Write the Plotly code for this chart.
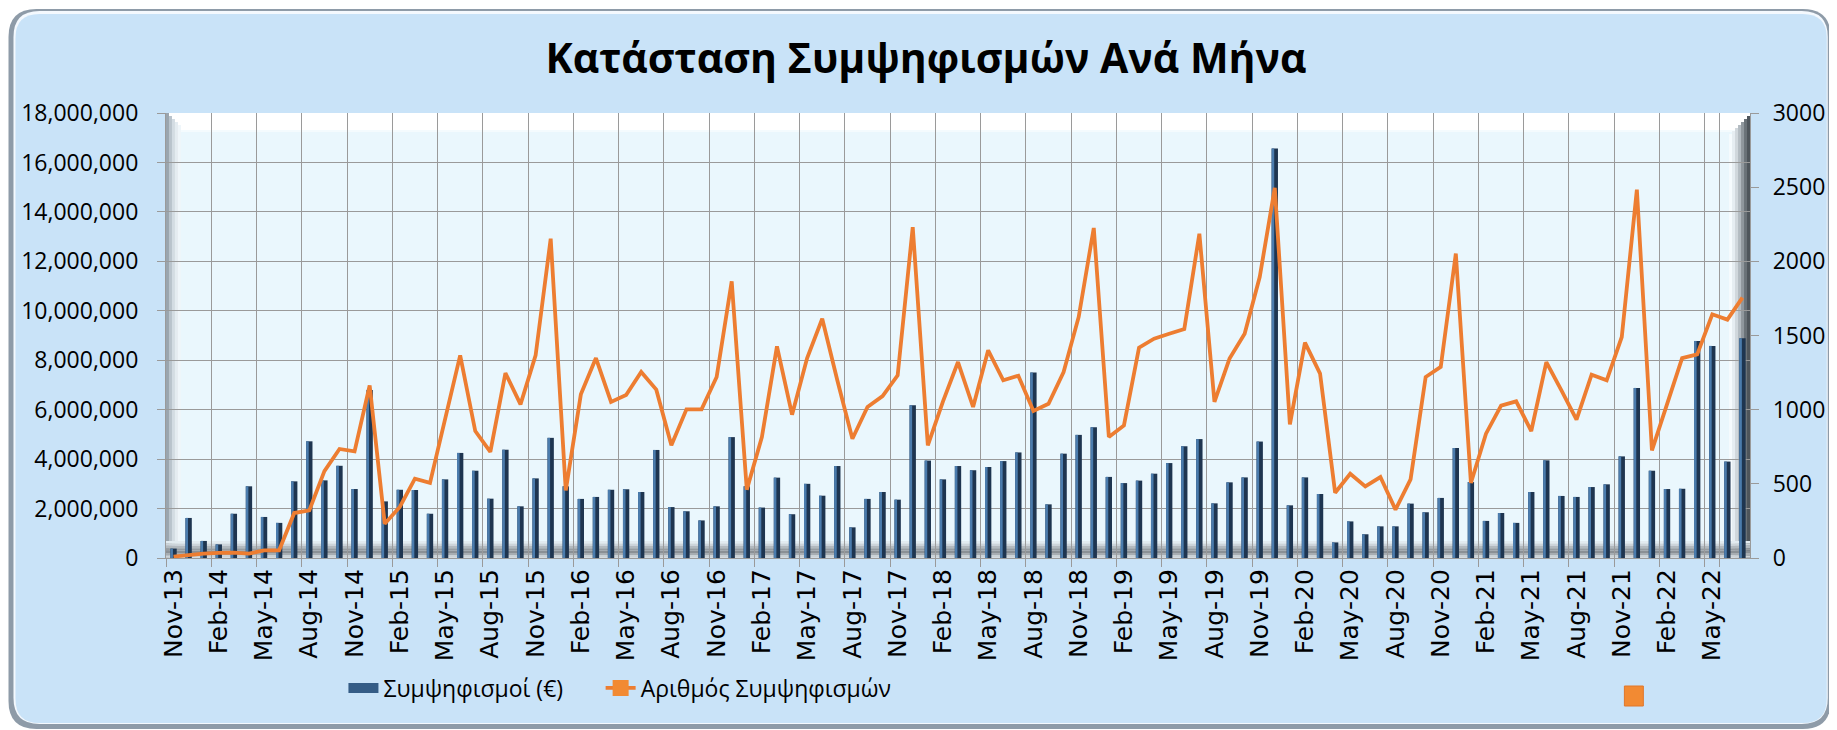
import pandas as pd
import plotly.graph_objects as go

# ---------------- data ----------------
months = list(pd.date_range("2013-11-01", periods=105, freq="MS").strftime("%b-%y"))

amount_eur = [
    0.38e6, 1.62e6, 0.69e6, 0.55e6, 1.79e6, 2.90e6, 1.66e6, 1.42e6, 3.10e6, 4.72e6,
    3.14e6, 3.73e6, 2.79e6, 6.80e6, 2.29e6, 2.76e6, 2.75e6, 1.79e6, 3.18e6, 4.25e6,
    3.53e6, 2.40e6, 4.38e6, 2.09e6, 3.22e6, 4.86e6, 2.90e6, 2.39e6, 2.47e6, 2.76e6,
    2.78e6, 2.67e6, 4.37e6, 2.06e6, 1.89e6, 1.52e6, 2.09e6, 4.89e6, 2.90e6, 2.04e6,
    3.25e6, 1.77e6, 3.00e6, 2.52e6, 3.72e6, 1.24e6, 2.39e6, 2.67e6, 2.36e6, 6.18e6,
    3.94e6, 3.18e6, 3.72e6, 3.55e6, 3.68e6, 3.92e6, 4.27e6, 7.50e6, 2.17e6, 4.22e6,
    4.98e6, 5.29e6, 3.28e6, 3.03e6, 3.13e6, 3.41e6, 3.84e6, 4.52e6, 4.81e6, 2.21e6,
    3.06e6, 3.26e6, 4.71e6, 16.56e6, 2.13e6, 3.26e6, 2.59e6, 0.63e6, 1.48e6, 0.96e6,
    1.28e6, 1.28e6, 2.20e6, 1.85e6, 2.43e6, 4.45e6, 3.07e6, 1.50e6, 1.82e6, 1.42e6,
    2.67e6, 3.95e6, 2.51e6, 2.47e6, 2.87e6, 2.98e6, 4.11e6, 6.88e6, 3.53e6, 2.79e6,
    2.80e6, 8.78e6, 8.58e6, 3.90e6, 8.89e6,
]

count = [
    10, 22, 29, 34, 36, 29, 52, 52, 303, 321,
    586, 735, 719, 1164, 231, 344, 535, 506, 932, 1366,
    856, 715, 1247, 1036, 1366, 2153, 456, 1103, 1348, 1052,
    1099, 1254, 1135, 760, 1002, 1002, 1220, 1865, 461, 816,
    1427, 966, 1348, 1613, 1198, 804, 1018, 1092, 1231, 2231,
    760, 1054, 1321, 1018, 1400, 1198, 1229, 991, 1040, 1254,
    1625, 2225, 816, 894, 1418, 1479, 1512, 1544, 2186, 1052,
    1344, 1512, 1894, 2496, 901, 1452, 1243, 440, 568, 483,
    546, 326, 530, 1220, 1288, 2052, 506, 838, 1027, 1056,
    856, 1321, 1130, 933, 1236, 1198, 1490, 2483, 726, 1040,
    1348, 1373, 1643, 1607, 1755,
]

left_ticks = list(range(0, 18_000_001, 2_000_000))
right_ticks = list(range(0, 3001, 500))
x_ticks = months[::3]

title_text = "Κατάσταση Συμψηφισμών Ανά Μήνα"
bar_name = "Συμψηφισμοί (€)"
line_name = "Αριθμός Συμψηφισμών"

# ---------------- layout geometry (reference pixel coords) ----------------
PAGE_W, PAGE_H = 1837, 730
OFF = 8                      # browser body margin
W, H = PAGE_W - OFF, PAGE_H - OFF
L, R, T, B = 166, 1755, 113, 558   # plot area in page pixels


def px(x):
    return (x - L) / (R - L)


def py(y):
    return (B - y) / (B - T)


def rrect(x0, y0, x1, y1, r):
    pts = [
        f"M {px(x0 + r)},{py(y0)}",
        f"L {px(x1 - r)},{py(y0)}",
        f"Q {px(x1)},{py(y0)} {px(x1)},{py(y0 + r)}",
        f"L {px(x1)},{py(y1 - r)}",
        f"Q {px(x1)},{py(y1)} {px(x1 - r)},{py(y1)}",
        f"L {px(x0 + r)},{py(y1)}",
        f"Q {px(x0)},{py(y1)} {px(x0)},{py(y1 - r)}",
        f"L {px(x0)},{py(y0 + r)}",
        f"Q {px(x0)},{py(y0)} {px(x0 + r)},{py(y0)}",
        "Z",
    ]
    return " ".join(pts)


def rect(x0, y0, x1, y1, color, layer="below"):
    return dict(type="rect", xref="paper", yref="paper", layer=layer,
                x0=px(x0), x1=px(x1), y0=py(y1), y1=py(y0),
                fillcolor=color, line=dict(width=0))


shapes = []
# chart frame (shadow + highlight + fill)
shapes.append(dict(type="path", xref="paper", yref="paper", layer="below",
                   path=rrect(8, 9, 1836, 729, 28), fillcolor="#8E9BA8", line=dict(width=0)))
shapes.append(dict(type="path", xref="paper", yref="paper", layer="below",
                   path=rrect(13, 11, 1833, 724, 26), fillcolor="#F4F9FE", line=dict(width=0)))
shapes.append(dict(type="path", xref="paper", yref="paper", layer="below",
                   path=rrect(15, 14, 1832, 723, 24), fillcolor="#C9E3F8", line=dict(width=0)))
# plot area fill
shapes.append(rect(L, T, R, B, "#EAF7FD"))
# top bevel (white)
shapes.append(rect(L, T, R, T + 17, "#FFFFFF"))
shapes.append(rect(L, T + 17, R, T + 19, "#F4FBFE"))
# left bevel
for i, c in enumerate(["#9AA5AF", "#B9C3CC", "#D3DCE3", "#E4ECF1", "#EFF6FA"]):
    shapes.append(rect(L + i * 3, T + i * 3, L + i * 3 + 3, B, c))
# right bevel
for i, c in enumerate(["#F6FBFE", "#E6EDF2", "#D0D7DC", "#B3BBC1", "#8F979D", "#6A7278", "#4E555B"]):
    shapes.append(rect(R - 21 + i * 3, T + 21 - i * 3, R - 18 + i * 3, B, c))
# floor band
for i, c in enumerate(["#E2EBF0", "#CDD5DA", "#B2B9BE", "#969CA1", "#8A9095", "#A7ADB2", "#CCD2D6"]):
    shapes.append(rect(L, 541 + i * 2.4, R, 543.4 + i * 2.4, c))
# stray legend key square at bottom right
shapes.append(dict(type="rect", xref="paper", yref="paper", layer="above",
                   x0=px(1629), x1=px(1648), y0=py(706), y1=py(686),
                   fillcolor="#F28A33", line=dict(width=1, color="#E0762A")))

fig = go.Figure()

fig.add_trace(go.Bar(
    x=months, y=amount_eur, name=bar_name,
    marker=dict(color="#1E3550", line=dict(width=0)),
    width=0.42, offset=-0.21, yaxis="y", showlegend=False,
    hovertemplate="%{x}: %{y:,.0f} €<extra></extra>",
))
fig.add_trace(go.Bar(
    x=months, y=amount_eur, name=bar_name,
    marker=dict(color="#4B7CAD", line=dict(width=0)),
    width=0.17, offset=-0.21, yaxis="y", showlegend=False, hoverinfo="skip",
))
fig.add_trace(go.Scatter(
    x=months, y=count, name=line_name, mode="lines",
    line=dict(color="#ED7D31", width=3.8), yaxis="y2", showlegend=False,
))
# legend keys
fig.add_trace(go.Scatter(
    x=[None], y=[None], name=bar_name, mode="lines",
    line=dict(color="#345C86", width=18), yaxis="y", showlegend=True, legend="legend",
))
fig.add_trace(go.Scatter(
    x=[None], y=[None], name=line_name, mode="lines+markers",
    line=dict(color="#ED7D31", width=3.8),
    marker=dict(symbol="square", size=17, color="#F28A33"), yaxis="y2",
    showlegend=True, legend="legend2",
))

legend_font = dict(family="Open Sans", size=23, color="#000000")

fig.update_layout(
    width=W, height=H,
    margin=dict(l=L - OFF, r=W - (R - OFF), t=T - OFF, b=H - (B - OFF), pad=0),
    paper_bgcolor="#FFFFFF",
    plot_bgcolor="rgba(0,0,0,0)",
    barmode="overlay",
    shapes=shapes,
    title=dict(text=title_text, x=(926 - OFF) / W, xanchor="center",
               y=1 - (59 - OFF) / H, yanchor="middle",
               font=dict(family="Open Sans", size=41, color="#000000", weight="bold")),
    font=dict(family="Open Sans", color="#000000"),
    showlegend=True,
    legend=dict(orientation="h", x=px(344), xanchor="left", y=py(688), yanchor="middle",
                font=legend_font, bgcolor="rgba(0,0,0,0)"),
    legend2=dict(orientation="h", x=px(602), xanchor="left", y=py(688), yanchor="middle",
                 font=legend_font, bgcolor="rgba(0,0,0,0)"),
    xaxis=dict(
        type="category", categoryorder="array", categoryarray=months,
        tickmode="array", tickvals=x_ticks, ticktext=x_ticks,
        tickson="boundaries", tickangle=-90,
        ticks="outside", ticklen=8, tickcolor="#9A9A9A",
        showgrid=True, gridcolor="#9A9A9A", gridwidth=1.2,
        showline=True, linecolor="#9A9A9A", linewidth=1.2,
        tickfont=dict(family="DejaVu Sans", size=25, color="#000000"),
        range=[-0.5, len(months) - 0.5],
    ),
    yaxis=dict(
        range=[0, 18_000_000], tickmode="array", tickvals=left_ticks,
        tickformat=",d", ticks="outside", ticklen=8, tickcolor="#9A9A9A",
        showgrid=True, gridcolor="#9A9A9A", gridwidth=1.2,
        showline=True, linecolor="#9A9A9A", linewidth=1.2, zeroline=False,
        ticklabelstandoff=14,
        tickfont=dict(family="Open Sans", size=23, color="#000000"),
    ),
    yaxis2=dict(
        range=[0, 3000], tickmode="array", tickvals=right_ticks,
        overlaying="y", side="right", showgrid=False, zeroline=False,
        ticks="outside", ticklen=8, tickcolor="#9A9A9A",
        showline=True, linecolor="#9A9A9A", linewidth=1.2,
        ticklabelstandoff=9,
        tickfont=dict(family="Open Sans", size=23, color="#000000"),
    ),
)

fig.write_html("out.html")
